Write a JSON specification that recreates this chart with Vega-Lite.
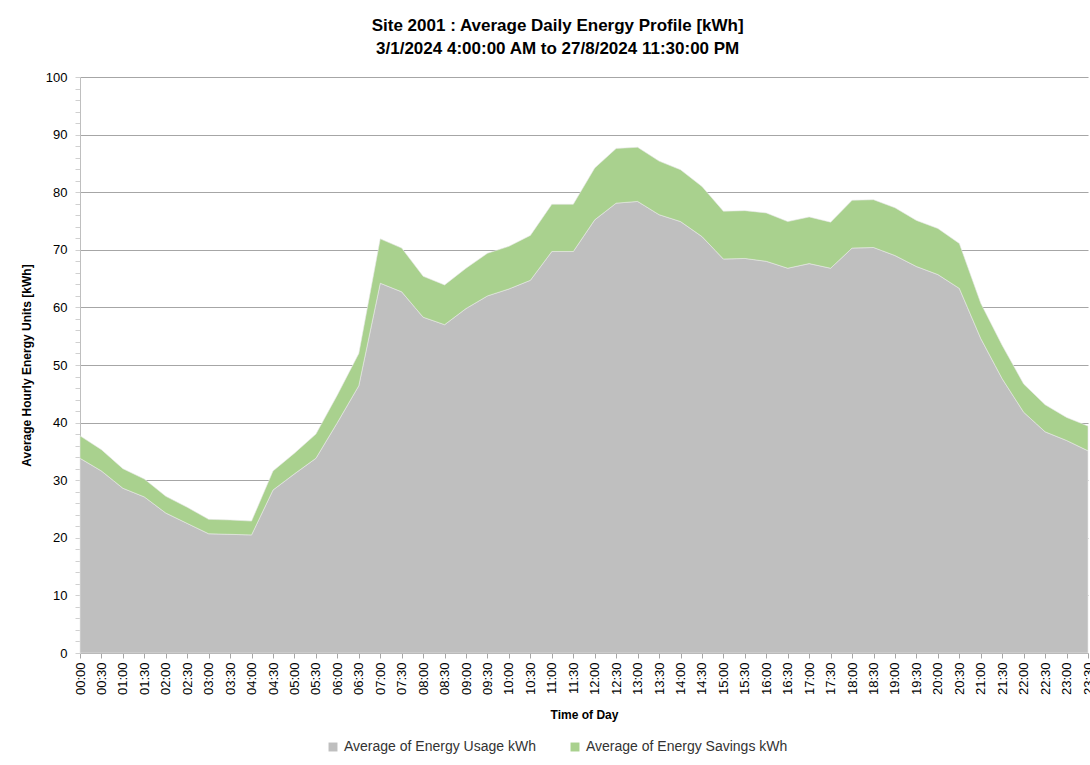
{
  "$schema": "https://vega.github.io/schema/vega-lite/v6.json",
  "autosize": "none",
  "width": 1008,
  "height": 576,
  "padding": {"left": 80, "top": 77, "right": 2, "bottom": 112},
  "background": "white",
  "title": {
    "text": ["Site 2001 : Average Daily Energy Profile [kWh]", "3/1/2024 4:00:00 AM to 27/8/2024 11:30:00 PM"],
    "anchor": "middle",
    "frame": "bounds",
    "font": "Liberation Sans",
    "fontSize": 17,
    "fontWeight": "bold",
    "color": "#000000",
    "lineHeight": 23,
    "offset": 13
  },
  "data": {
    "values": [
      {"t": "00:00", "Average of Energy Usage kWh": 33.8, "Average of Energy Savings kWh": 3.9},
      {"t": "00:30", "Average of Energy Usage kWh": 31.6, "Average of Energy Savings kWh": 3.7},
      {"t": "01:00", "Average of Energy Usage kWh": 28.6, "Average of Energy Savings kWh": 3.4},
      {"t": "01:30", "Average of Energy Usage kWh": 27.1, "Average of Energy Savings kWh": 3.1},
      {"t": "02:00", "Average of Energy Usage kWh": 24.3, "Average of Energy Savings kWh": 2.9},
      {"t": "02:30", "Average of Energy Usage kWh": 22.5, "Average of Energy Savings kWh": 2.8},
      {"t": "03:00", "Average of Energy Usage kWh": 20.7, "Average of Energy Savings kWh": 2.5},
      {"t": "03:30", "Average of Energy Usage kWh": 20.6, "Average of Energy Savings kWh": 2.5},
      {"t": "04:00", "Average of Energy Usage kWh": 20.5, "Average of Energy Savings kWh": 2.4},
      {"t": "04:30", "Average of Energy Usage kWh": 28.3, "Average of Energy Savings kWh": 3.3},
      {"t": "05:00", "Average of Energy Usage kWh": 31.1, "Average of Energy Savings kWh": 3.6},
      {"t": "05:30", "Average of Energy Usage kWh": 33.8, "Average of Energy Savings kWh": 4.2},
      {"t": "06:00", "Average of Energy Usage kWh": 40.0, "Average of Energy Savings kWh": 4.8},
      {"t": "06:30", "Average of Energy Usage kWh": 46.4, "Average of Energy Savings kWh": 5.6},
      {"t": "07:00", "Average of Energy Usage kWh": 64.2, "Average of Energy Savings kWh": 7.7},
      {"t": "07:30", "Average of Energy Usage kWh": 62.7, "Average of Energy Savings kWh": 7.6},
      {"t": "08:00", "Average of Energy Usage kWh": 58.3, "Average of Energy Savings kWh": 7.1},
      {"t": "08:30", "Average of Energy Usage kWh": 57.0, "Average of Energy Savings kWh": 6.9},
      {"t": "09:00", "Average of Energy Usage kWh": 59.8, "Average of Energy Savings kWh": 7.0},
      {"t": "09:30", "Average of Energy Usage kWh": 62.0, "Average of Energy Savings kWh": 7.4},
      {"t": "10:00", "Average of Energy Usage kWh": 63.2, "Average of Energy Savings kWh": 7.4},
      {"t": "10:30", "Average of Energy Usage kWh": 64.7, "Average of Energy Savings kWh": 7.8},
      {"t": "11:00", "Average of Energy Usage kWh": 69.7, "Average of Energy Savings kWh": 8.2},
      {"t": "11:30", "Average of Energy Usage kWh": 69.7, "Average of Energy Savings kWh": 8.2},
      {"t": "12:00", "Average of Energy Usage kWh": 75.2, "Average of Energy Savings kWh": 9.0},
      {"t": "12:30", "Average of Energy Usage kWh": 78.1, "Average of Energy Savings kWh": 9.5},
      {"t": "13:00", "Average of Energy Usage kWh": 78.4, "Average of Energy Savings kWh": 9.4},
      {"t": "13:30", "Average of Energy Usage kWh": 76.1, "Average of Energy Savings kWh": 9.3},
      {"t": "14:00", "Average of Energy Usage kWh": 74.9, "Average of Energy Savings kWh": 9.0},
      {"t": "14:30", "Average of Energy Usage kWh": 72.3, "Average of Energy Savings kWh": 8.7},
      {"t": "15:00", "Average of Energy Usage kWh": 68.4, "Average of Energy Savings kWh": 8.3},
      {"t": "15:30", "Average of Energy Usage kWh": 68.5, "Average of Energy Savings kWh": 8.3},
      {"t": "16:00", "Average of Energy Usage kWh": 68.0, "Average of Energy Savings kWh": 8.4},
      {"t": "16:30", "Average of Energy Usage kWh": 66.8, "Average of Energy Savings kWh": 8.1},
      {"t": "17:00", "Average of Energy Usage kWh": 67.6, "Average of Energy Savings kWh": 8.1},
      {"t": "17:30", "Average of Energy Usage kWh": 66.8, "Average of Energy Savings kWh": 8.0},
      {"t": "18:00", "Average of Energy Usage kWh": 70.3, "Average of Energy Savings kWh": 8.3},
      {"t": "18:30", "Average of Energy Usage kWh": 70.4, "Average of Energy Savings kWh": 8.3},
      {"t": "19:00", "Average of Energy Usage kWh": 69.0, "Average of Energy Savings kWh": 8.3},
      {"t": "19:30", "Average of Energy Usage kWh": 67.1, "Average of Energy Savings kWh": 8.0},
      {"t": "20:00", "Average of Energy Usage kWh": 65.7, "Average of Energy Savings kWh": 8.0},
      {"t": "20:30", "Average of Energy Usage kWh": 63.3, "Average of Energy Savings kWh": 7.8},
      {"t": "21:00", "Average of Energy Usage kWh": 54.6, "Average of Energy Savings kWh": 6.1},
      {"t": "21:30", "Average of Energy Usage kWh": 47.6, "Average of Energy Savings kWh": 5.8},
      {"t": "22:00", "Average of Energy Usage kWh": 41.8, "Average of Energy Savings kWh": 4.9},
      {"t": "22:30", "Average of Energy Usage kWh": 38.4, "Average of Energy Savings kWh": 4.7},
      {"t": "23:00", "Average of Energy Usage kWh": 36.9, "Average of Energy Savings kWh": 4.0},
      {"t": "23:30", "Average of Energy Usage kWh": 35.1, "Average of Energy Savings kWh": 4.3}
    ]
  },
  "transform": [
    {"fold": ["Average of Energy Usage kWh", "Average of Energy Savings kWh"], "as": ["series", "value"]}
  ],
  "mark": {"type": "area", "stroke": "#e8e8e8", "strokeWidth": 0.6, "opacity": 1},
  "encoding": {
    "x": {
      "field": "t",
      "type": "ordinal",
      "sort": null,
      "scale": {"type": "point", "padding": 0},
      "axis": {
        "title": "Time of Day",
        "titleFont": "Liberation Sans",
        "titleFontSize": 12,
        "titleFontWeight": "bold",
        "titleColor": "#000000",
        "titlePadding": 15,
        "labelAngle": -90,
        "labelFont": "Liberation Sans",
        "labelFontSize": 13,
        "labelColor": "#000000",
        "labelPadding": 4,
        "labelOverlap": false,
        "domainColor": "#a6a6a6",
        "tickColor": "#a6a6a6",
        "tickSize": 5,
        "grid": false
      }
    },
    "y": {
      "field": "value",
      "type": "quantitative",
      "stack": "zero",
      "scale": {"domain": [0, 100], "nice": false},
      "axis": {
        "title": "Average Hourly Energy Units [kWh]",
        "titleFont": "Liberation Sans",
        "titleFontSize": 12,
        "titleFontWeight": "bold",
        "titleColor": "#000000",
        "titlePadding": 12,
        "values": [0, 2, 4, 6, 8, 10, 12, 14, 16, 18, 20, 22, 24, 26, 28, 30, 32, 34, 36, 38, 40, 42, 44, 46, 48, 50, 52, 54, 56, 58, 60, 62, 64, 66, 68, 70, 72, 74, 76, 78, 80, 82, 84, 86, 88, 90, 92, 94, 96, 98, 100],
        "labelExpr": "datum.value % 10 === 0 ? datum.label : ''",
        "labelOverlap": false,
        "labelFont": "Liberation Sans",
        "labelFontSize": 13,
        "labelColor": "#000000",
        "labelPadding": 8,
        "domainColor": "#bfbfbf",
        "tickColor": "#d0d0d0",
        "tickSize": 5,
        "grid": true,
        "gridColor": {"condition": {"test": "datum.value % 10 === 0 && datum.value > 0", "value": "#a6a6a6"}, "value": "transparent"},
        "gridWidth": 1
      }
    },
    "color": {
      "field": "series",
      "type": "nominal",
      "scale": {
        "domain": ["Average of Energy Usage kWh", "Average of Energy Savings kWh"],
        "range": ["#bfbfbf", "#a9d18e"]
      },
      "legend": {
        "title": null,
        "orient": "none",
        "direction": "horizontal",
        "legendX": 246,
        "legendY": 663,
        "symbolType": "square",
        "symbolSize": 80,
        "symbolStrokeWidth": 0,
        "labelFont": "Liberation Sans",
        "labelFontSize": 14,
        "labelColor": "#333333",
        "columnPadding": 32,
        "labelLimit": 400
      }
    },
    "order": {"field": "series", "sort": "descending"}
  },
  "config": {
    "view": {"stroke": null}
  }
}
